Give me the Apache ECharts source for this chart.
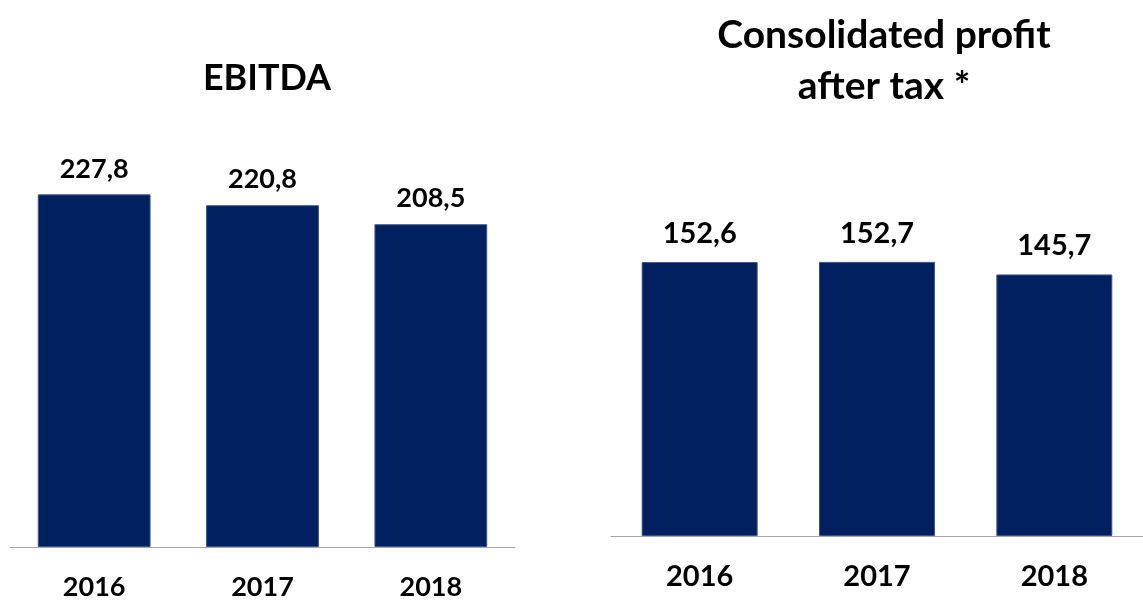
<!DOCTYPE html>
<html lang="en">
<head>
	<meta charset="UTF-8">
	<title>EBITDA / profit</title>
	<style>
		html, body { margin: 0; padding: 0; background: #fff; }
	</style>
</head>
<body>
	<div id="main" style="width: 1143px;height: 601px"></div>
	<script src="https://cdn.jsdelivr.net/npm/echarts@6/dist/echarts.min.js"></script>
	<script>
		var years = ['2016', '2017', '2018']
		var ebitda = [227.8, 220.8, 208.5]
		var profit = [152.6, 152.7, 145.7]

		var barColor = '#002060'
		var font = 'Lato'

		// values are shown with a decimal comma
		function comma(p) {
			return p.value.toFixed(1).replace('.', ',')
		}

		var myChart = echarts.init(document.getElementById('main'));
		var option = {
			animation: false,
			textStyle: { fontFamily: font },
			title: [{
				text: 'EBITDA',
				left: 262,
				top: 55,
				textAlign: 'center',
				textStyle: { fontFamily: font, fontSize: 36, fontWeight: 'bold', color: '#000' }
			}, {
				text: 'Consolidated profit\nafter tax *',
				left: 879,
				top: 5,
				textAlign: 'center',
				textStyle: { fontFamily: font, fontSize: 39, fontWeight: 'bold', color: '#000', lineHeight: 51 }
			}],
			grid: [
				{ left: 10, width: 505, top: 160, bottom: 53 },
				{ left: 611, width: 537, top: 177, bottom: 65 }
			],
			xAxis: [0, 1].map(function (i) {
				return {
					type: 'category',
					gridIndex: i,
					data: years,
					axisLine: { lineStyle: { color: '#a6a6a6', width: 1 } },
					axisTick: { show: false },
					axisLabel: {
						margin: i ? 26 : 27,
						fontFamily: font,
						fontSize: i ? 29 : 27,
						fontWeight: 'bold',
						color: '#000'
					}
				}
			}),
			yAxis: [
				{ type: 'value', gridIndex: 0, min: 0, max: 250, show: false },
				{ type: 'value', gridIndex: 1, min: 0, max: 200, show: false }
			],
			series: [{
				name: 'EBITDA',
				type: 'bar',
				xAxisIndex: 0,
				yAxisIndex: 0,
				data: ebitda,
				barWidth: '67%',
				itemStyle: { color: barColor, borderColor: '#3b5488', borderWidth: 1 },
				label: {
					show: true, position: 'top', distance: 12, formatter: comma,
					fontFamily: font, fontSize: 27, fontWeight: 'bold', color: '#000'
				}
			}, {
				name: 'profit',
				type: 'bar',
				xAxisIndex: 1,
				yAxisIndex: 1,
				data: profit,
				barWidth: '65.4%',
				itemStyle: { color: barColor, borderColor: '#3b5488', borderWidth: 1 },
				label: {
					show: true, position: 'top', distance: 14, formatter: comma,
					fontFamily: font, fontSize: 29, fontWeight: 'bold', color: '#000'
				}
			}]
		};
		myChart.setOption(option);
	</script>
</body>
</html>
